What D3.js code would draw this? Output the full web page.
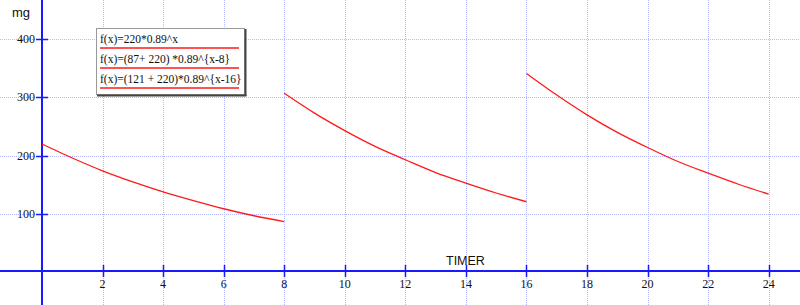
<!DOCTYPE html>
<html><head><meta charset="utf-8">
<script src="https://cdn.jsdelivr.net/npm/d3@7/dist/d3.min.js"></script>
<style>body{margin:0;background:#fff}svg{display:block}</style>
</head><body>
<svg id="c" width="800" height="305"></svg>
<script>
// Data (mg at each hour)
const hours1 = [0,1,2,3,4,5,6,7,8];
const dose1  = [220,196,174,155,138,123,109,97,87];
const hours2 = [8,9,10,11,12,13,14,15,16];
const dose2  = [307,273,243,216,193,171,153,136,121];
const hours3 = [16,17,18,19,20,21,22,23,24];
const dose3  = [341,304,270,240,214,190,170,151,134];
const xTicks = [2,4,6,8,10,12,14,16,18,20,22,24];
const yTicks = [100,200,300,400];
const legendLabels = [
  "f(x)=220*0.89^x",
  "f(x)=(87+ 220) *0.89^{x-8}",
  "f(x)=(121 + 220)*0.89^{x-16}"
];
const xLabel = "TIMER", yLabel = "mg";

const W = 800, H = 305;
const svg = d3.select("#c");
const x = d3.scaleLinear().domain([0,24]).range([42,768.7]);
const y = d3.scaleLinear().domain([100,400]).range([214,39]);
const x0 = x(0), y0 = Math.round(y(0)) - 1;

// grid
const grid = svg.append("g").attr("stroke","#b4b8ff").attr("stroke-width",1).attr("stroke-dasharray","1,1");
xTicks.forEach(t=>grid.append("line").attr("x1",Math.round(x(t))+0.5).attr("x2",Math.round(x(t))+0.5).attr("y1",0).attr("y2",H));
yTicks.forEach(t=>grid.append("line").attr("x1",0).attr("x2",W).attr("y1",Math.round(y(t))+0.5).attr("y2",Math.round(y(t))+0.5));

// axes
const ax = svg.append("g").attr("stroke","#1a1aff");
ax.append("line").attr("x1",0).attr("x2",W).attr("y1",y0).attr("y2",y0).attr("stroke-width",2);
ax.append("line").attr("x1",x0).attr("x2",x0).attr("y1",0).attr("y2",H).attr("stroke-width",2);
xTicks.forEach(t=>ax.append("line").attr("x1",Math.round(x(t))+0.5).attr("x2",Math.round(x(t))+0.5).attr("y1",y0-6).attr("y2",y0+6).attr("stroke-width",1.5));
yTicks.forEach(t=>ax.append("line").attr("x1",x0-6).attr("x2",x0+6).attr("y1",Math.round(y(t))+0.5).attr("y2",Math.round(y(t))+0.5).attr("stroke-width",1.5));

// tick labels
const tl = svg.append("g").attr("font-family","Liberation Serif, Times New Roman, serif").attr("font-size",12).attr("fill","#111");
xTicks.forEach(t=>tl.append("text").attr("x",x(t)).attr("y",y0+17).attr("text-anchor","middle").text(t));
yTicks.forEach(t=>tl.append("text").attr("x",35).attr("y",y(t)+4).attr("text-anchor","end").text(t));

svg.append("text").attr("x",12).attr("y",17).attr("font-family","Liberation Sans, Arial, sans-serif").attr("font-size",13).attr("fill","#111").text(yLabel);
svg.append("text").attr("x",446).attr("y",265).attr("font-family","Liberation Sans, Arial, sans-serif").attr("font-size",12.5).attr("fill","#111").text(xLabel);

// curves
const line = d3.line().x(d=>x(d[0])).y(d=>y(d[1])).curve(d3.curveMonotoneX);
[[hours1,dose1],[hours2,dose2],[hours3,dose3]].forEach(([hs,ds])=>{
  svg.append("path").datum(hs.map((h,i)=>[h,ds[i]])).attr("d",line)
    .attr("fill","none").attr("stroke","#ff1a1a").attr("stroke-width",1.3);
});

// legend box
const lg = svg.append("g");
lg.append("rect").attr("x",96.5).attr("y",28.5).attr("width",148).attr("height",66).attr("fill","#fff").attr("stroke","#999");
lg.append("line").attr("x1",245.5).attr("x2",245.5).attr("y1",29).attr("y2",96).attr("stroke","#444").attr("stroke-width",2);
lg.append("line").attr("x1",97).attr("x2",246.5).attr("y1",95.5).attr("y2",95.5).attr("stroke","#444").attr("stroke-width",2);
legendLabels.forEach((s,i)=>{
  const by = 43 + i*20;
  lg.append("text").attr("x",100).attr("y",by).attr("font-family","Liberation Serif, Times New Roman, serif").attr("font-size",11.5).attr("fill","#111").text(s);
  lg.append("line").attr("x1",100).attr("x2",239).attr("y1",by+5).attr("y2",by+5).attr("stroke","#ff1a1a").attr("stroke-width",1.5);
});
</script>
</body></html>
